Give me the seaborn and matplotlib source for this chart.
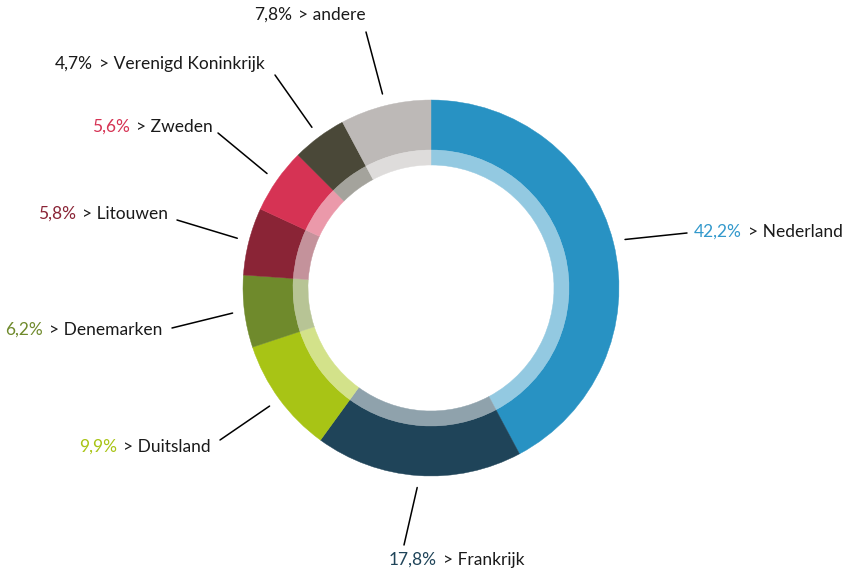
import matplotlib
matplotlib.use("Agg")
import matplotlib.pyplot as plt
import numpy as np
import seaborn as sns

# data, clockwise from the top
countries = ["Nederland", "Frankrijk", "Duitsland", "Denemarken",
             "Litouwen", "Zweden", "Verenigd Koninkrijk", "andere"]
shares = [42.2, 17.8, 9.9, 6.2, 5.8, 5.6, 4.7, 7.8]
colors = ["#2892C3", "#1F4459", "#A8C415", "#6F8A2C",
          "#8A2436", "#D63354", "#4A4838", "#BDB9B7"]
pct_colors = ["#3399CC", "#1F4459", "#A8C415", "#6F8A2C",
              "#8A2436", "#D63354", "#1a1a1a", "#1a1a1a"]

# layout (pixels, top-left origin): label end of leader line, split x between % and name, text row
label_anchor = [(687, 233), (404, 545), (220, 440), (172, 328),
                (177, 220), (218, 133), (275, 75), (366, 32)]
label_split = [742, 437, 117, 43, 76, 130, 93, 292]
label_row = [232, 560, 447, 330, 214, 127, 64, 15]

W, H = 845, 570
CX, CY = 431, 288
R_OUT, R_MID, R_IN = 188, 138, 123


def lighten(c, f=0.5):
    rgb = np.array(matplotlib.colors.to_rgb(c))
    return tuple(rgb + (1 - rgb) * f)


sns.set_theme(style="white")
plt.rcParams["font.family"] = ["Lato", "DejaVu Sans"]

fig = plt.figure(figsize=(W / 100, H / 100), dpi=100)
ax = fig.add_axes([0, 0, 1, 1])
ax.set_xlim(0, W)
ax.set_ylim(0, H)
ax.set_aspect("equal")
ax.axis("off")

center = (CX, H - CY)
wedges, _ = ax.pie(shares, colors=colors, startangle=90, counterclock=False,
                   radius=R_OUT, center=center,
                   wedgeprops=dict(width=R_OUT - R_MID, linewidth=0))
inner, _ = ax.pie(shares, colors=[lighten(c) for c in colors], startangle=90, counterclock=False,
                  radius=R_MID, center=center,
                  wedgeprops=dict(width=R_MID - R_IN, linewidth=0))
for w in list(wedges) + list(inner):
    w.set_edgecolor(w.get_facecolor())
    w.set_linewidth(0.3)
ax.set_xlim(0, W)
ax.set_ylim(0, H)

for w, name, val, pc, anc, sx, row in zip(wedges, countries, shares, pct_colors,
                                           label_anchor, label_split, label_row):
    ang = np.deg2rad((w.theta1 + w.theta2) / 2)
    x0 = CX + 200 * np.cos(ang)
    y0 = (H - CY) + 200 * np.sin(ang)
    ax.plot([x0, anc[0]], [y0, H - anc[1]], color="black", lw=1.1)
    pct = f"{val:.1f}%".replace(".", ",")
    ax.text(sx, H - row, pct, color=pc, ha="right", va="center", fontsize=12.5)
    ax.text(sx + 6, H - row, "> " + name, color="#1a1a1a", ha="left", va="center", fontsize=12.5)

fig.savefig("out.png", dpi=100)
